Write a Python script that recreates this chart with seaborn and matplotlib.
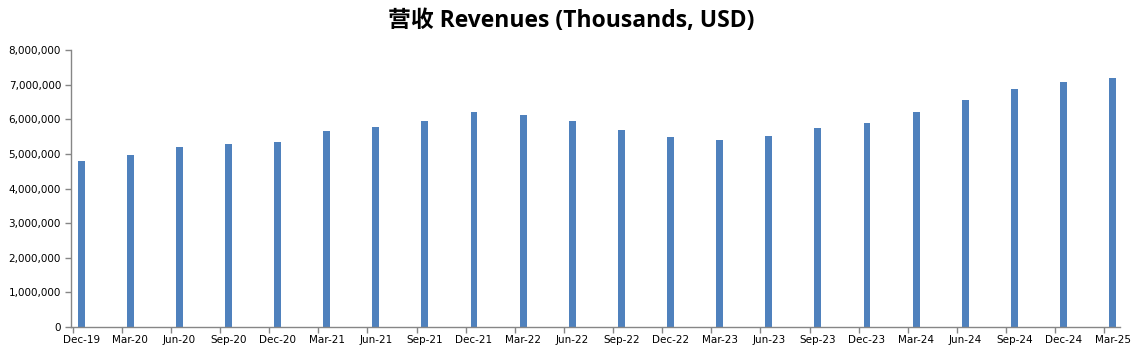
import pandas as pd
import matplotlib
matplotlib.use("Agg")
import matplotlib.pyplot as plt
import seaborn as sns
from matplotlib.ticker import FuncFormatter

# quarter labels and revenues (thousands USD)
quarters = ["Dec-19", "Mar-20", "Jun-20", "Sep-20", "Dec-20", "Mar-21", "Jun-21", "Sep-21",
            "Dec-21", "Mar-22", "Jun-22", "Sep-22", "Dec-22", "Mar-23", "Jun-23", "Sep-23",
            "Dec-23", "Mar-24", "Jun-24", "Sep-24", "Dec-24", "Mar-25"]
revenues = [4810000, 4980000, 5190000, 5300000, 5360000, 5680000, 5790000, 5970000,
            6230000, 6140000, 5970000, 5710000, 5480000, 5420000, 5530000, 5740000,
            5910000, 6230000, 6550000, 6890000, 7090000, 7210000]

df = pd.DataFrame({"Quarter": quarters, "Revenue": revenues})

sns.set_style("white")
plt.rcParams["font.family"] = ["DejaVu Sans", "Noto Sans CJK SC"]
plt.rcParams["text.color"] = "black"
plt.rcParams["xtick.labelcolor"] = "black"
plt.rcParams["ytick.labelcolor"] = "black"

fig = plt.figure(figsize=(11.43, 3.63), dpi=100)
ax = fig.add_axes([0.0619, 0.0992, 0.918, 0.7622])

sns.barplot(data=df, x="Quarter", y="Revenue", color="#4F81BD", width=0.14,
            saturation=1, edgecolor="none", linewidth=0, ax=ax)

ax.set_ylim(0, 8000000)
ax.set_yticks(range(0, 8000001, 1000000))
ax.yaxis.set_major_formatter(FuncFormatter(lambda v, p: f"{int(v):,}"))
ax.set_xlim(-0.21, 21.15)

# excel style: labels under bars, tick marks a bit left of each bar
ax.tick_params(axis="x", which="major", length=0, labelsize=7.5, pad=6)
ax.set_xticks([i - 0.17 for i in range(len(quarters))], minor=True)
ax.tick_params(axis="x", which="minor", length=4, color="#868686", width=1)
ax.tick_params(axis="y", length=4, color="#868686", width=1, labelsize=7.5, pad=3)
ax.tick_params(axis="both", direction="out")
ax.xaxis.set_ticks_position("bottom")
ax.yaxis.set_ticks_position("left")

for s in ["top", "right"]:
    ax.spines[s].set_visible(False)
for s in ["left", "bottom"]:
    ax.spines[s].set_color("#868686")
    ax.spines[s].set_linewidth(1)

ax.set_xlabel("")
ax.set_ylabel("")

fig.suptitle("营收 Revenues (Thousands, USD)", x=0.5, y=0.975, fontsize=16.5,
             fontweight="bold", color="black", family=["Open Sans", "Noto Sans CJK SC"])

fig.savefig("out.png", dpi=100)
